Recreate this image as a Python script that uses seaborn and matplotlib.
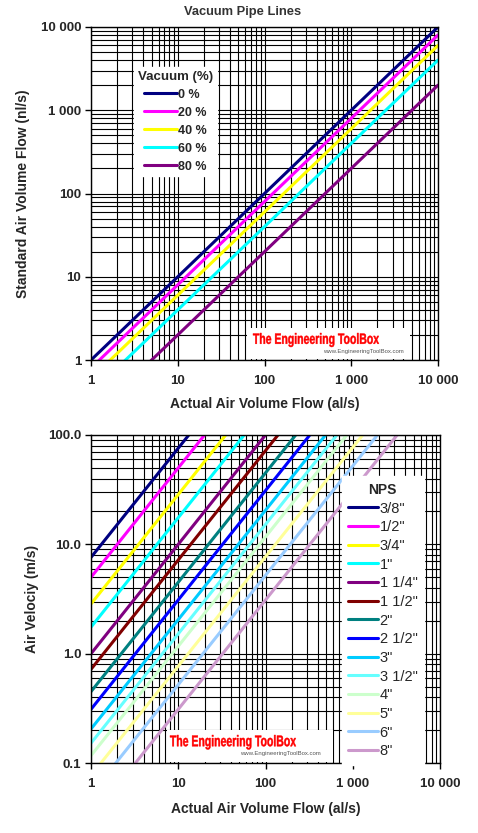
import numpy as np
import pandas as pd
import seaborn as sns
import matplotlib.pyplot as plt
from matplotlib.ticker import FixedLocator, FixedFormatter, LogLocator, NullFormatter
from matplotlib.textpath import TextPath
from matplotlib.patches import PathPatch, Rectangle
from matplotlib.font_manager import FontProperties
from matplotlib.transforms import Affine2D, IdentityTransform


# top chart - standard air flow vs actual air flow at vacuum levels
actual_flow = [1, 10, 100, 1000, 10000]
vacuum_levels = ['0 %', '20 %', '40 %', '60 %', '80 %']
std_flow_0 = [1, 10, 100, 1000, 10000]
std_flow_20 = [0.8, 8, 80, 800, 8000]
std_flow_40 = [0.6, 6, 60, 600, 6000]
std_flow_60 = [0.4, 4, 40, 400, 4000]
std_flow_80 = [0.2, 2, 20, 200, 2000]
vacuum_colors = ['#000080', '#FF00FF', '#FFFF00', '#00FFFF', '#800080']

# bottom chart - air velocity in pipes (start at 1 l/s, end at 100 m/s)
nps_sizes = ['3/8"', '1/2"', '3/4"', '1"', '1 1/4"', '1 1/2"', '2"',
             '2 1/2"', '3"', '3 1/2"', '4"', '5"', '6"', '8"']
velocity_at_1 = [7.6, 5.0, 2.85, 1.75, 1.0, 0.72, 0.45,
                 0.31, 0.205, 0.152, 0.117, 0.077, 0.052, 0.031]
flow_at_100 = [13.2, 20, 35, 57, 100, 139, 222,
               322, 488, 658, 855, 1300, 1920, 3230]
nps_colors = ['#000080', '#FF00FF', '#FFFF00', '#00FFFF', '#800080', '#800000', '#008080',
              '#0000FF', '#00CCFF', '#66FFFF', '#CCFFCC', '#FFFF99', '#99CCFF', '#CC99CC']

flow_ticks = [1, 10, 100, 1000, 10000]
flow_ticklabels = ['1', '10', '100', '1 000', '10 000']
vel_ticks = [0.1, 1, 10, 100]
vel_ticklabels = ['0.1', '1.0', '10.0', '100.0']


sns.set_theme(style="ticks")
plt.rcParams['font.family'] = ['Liberation Sans', 'DejaVu Sans']
plt.rcParams['axes.edgecolor'] = 'black'
plt.rcParams['axes.linewidth'] = 1.0

top_series = [std_flow_0, std_flow_20, std_flow_40, std_flow_60, std_flow_80]
df_top = pd.DataFrame({
    'actual': actual_flow * len(vacuum_levels),
    'standard': [v for s in top_series for v in s],
    'vacuum': [lvl for lvl in vacuum_levels for _ in actual_flow],
})

df_bot = pd.DataFrame({
    'flow': [q for q_end in flow_at_100 for q in (1, q_end)],
    'velocity': [v for v1 in velocity_at_1 for v in (v1, 100)],
    'nps': [n for n in nps_sizes for _ in range(2)],
})

W, H = 478, 833
fig = plt.figure(figsize=(W / 100, H / 100), dpi=100)
ax1 = fig.add_axes([0.1904, 0.5678, 0.7259, 0.3998])
ax2 = fig.add_axes([0.1904, 0.0840, 0.7301, 0.3938])


def style_axis(ax, yticks, yticklabels, ylim):
    ax.set_xscale('log')
    ax.set_yscale('log')
    ax.set_xlim(1, 10000)
    ax.set_ylim(*ylim)
    ax.xaxis.set_major_locator(FixedLocator(flow_ticks))
    ax.xaxis.set_major_formatter(FixedFormatter(flow_ticklabels))
    ax.yaxis.set_major_locator(FixedLocator(yticks))
    ax.yaxis.set_major_formatter(FixedFormatter(yticklabels))
    ax.xaxis.set_minor_locator(LogLocator(base=10, subs=np.arange(2, 10)))
    ax.yaxis.set_minor_locator(LogLocator(base=10, subs=np.arange(2, 10)))
    ax.xaxis.set_minor_formatter(NullFormatter())
    ax.yaxis.set_minor_formatter(NullFormatter())
    ax.grid(which='both', color='black', linewidth=0.8)
    ax.set_axisbelow(True)
    ax.tick_params(which='major', length=4, width=1, color='black', labelsize=9.5)
    ax.tick_params(which='minor', length=0)
    ax.tick_params(axis='x', pad=7)
    ax.tick_params(axis='y', pad=3)
    for lab in ax.get_xticklabels() + ax.get_yticklabels():
        lab.set_fontweight('bold')
    for sp in ax.spines.values():
        sp.set_visible(True)
        sp.set_color('black')


def watermark(box, text_box, small_xy):
    # box / text_box in pixels from the top-left corner: (x0, y0, x1, y1)
    x0, y0, x1, y1 = box
    fig.add_artist(Rectangle((x0, H - y1), x1 - x0, y1 - y0, transform=IdentityTransform(),
                             facecolor='white', edgecolor='none', zorder=5))
    tp = TextPath((0, 0), 'The Engineering ToolBox', size=1,
                  prop=FontProperties(family='Liberation Sans', weight='bold'))
    ext = tp.get_extents()
    tx0, ty0, tx1, ty1 = text_box
    tr = (Affine2D().translate(-ext.x0, -ext.y0)
          .scale((tx1 - tx0) / ext.width, (ty1 - ty0) / ext.height)
          .translate(tx0, H - ty1))
    fig.add_artist(PathPatch(tp, transform=tr, facecolor='#FF0000', edgecolor='#FF0000',
                             linewidth=0.3, zorder=6))
    fig.text(small_xy[0] / W, 1 - small_xy[1] / H, 'www.EngineeringToolBox.com',
             fontsize=4.3, color='#555555', ha='left', va='center', zorder=7)


# top chart
sns.lineplot(data=df_top, x='actual', y='standard', hue='vacuum', hue_order=vacuum_levels,
             palette=dict(zip(vacuum_levels, vacuum_colors)), linewidth=2.2, ax=ax1)
style_axis(ax1, flow_ticks, flow_ticklabels, (1, 10000))
h, l = ax1.get_legend_handles_labels()
ax1.legend(h, l, title='Vacuum (%)', loc='upper left', bbox_to_anchor=(0.124, 0.88),
           borderaxespad=0, frameon=True, fancybox=False, framealpha=1,
           edgecolor='white', facecolor='white', handlelength=2.6, handletextpad=0.1,
           labelspacing=0.48, prop={'size': 9, 'weight': 'bold'},
           title_fontproperties={'size': 9.5, 'weight': 'bold'}, borderpad=0.3)
ax1.set_xlabel('Actual Air Volume Flow (al/s)', fontsize=10, fontweight='bold')
ax1.set_ylabel('Standard Air Volume Flow (nl/s)', fontsize=10, fontweight='bold')
ax1.xaxis.set_label_coords(0.5, -0.112)
ax1.yaxis.set_label_coords(-0.176, 0.5)

# bottom chart
sns.lineplot(data=df_bot, x='flow', y='velocity', hue='nps', hue_order=nps_sizes,
             palette=dict(zip(nps_sizes, nps_colors)), linewidth=2.2, ax=ax2)
style_axis(ax2, vel_ticks, vel_ticklabels, (0.1, 100))
h, l = ax2.get_legend_handles_labels()
ax2.legend(h, l, title='NPS', loc='upper left', bbox_to_anchor=(0.718, 0.874),
           borderaxespad=0, frameon=True, fancybox=False, framealpha=1,
           edgecolor='white', facecolor='white', handlelength=2.05, handletextpad=0.1,
           labelspacing=0.32, prop={'size': 10.5},
           title_fontproperties={'size': 10, 'weight': 'bold'}, borderpad=0.45)
ax2.set_xlabel('Actual Air Volume Flow (al/s)', fontsize=10, fontweight='bold')
ax2.set_ylabel('Air Velociy (m/s)', fontsize=10, fontweight='bold')
ax2.xaxis.set_label_coords(0.5, -0.118)
ax2.yaxis.set_label_coords(-0.149, 0.5)

watermark((247, 328, 410, 359), (253, 333, 379, 347), (323, 352))
watermark((167, 730, 333, 762), (170, 735, 296, 749.5), (240, 754))

fig.text(0.508, 0.9856, 'Vacuum Pipe Lines', ha='center', va='center',
         fontsize=9.3, fontweight='bold', color='#333333')

fig.savefig('out.png', dpi=100)
